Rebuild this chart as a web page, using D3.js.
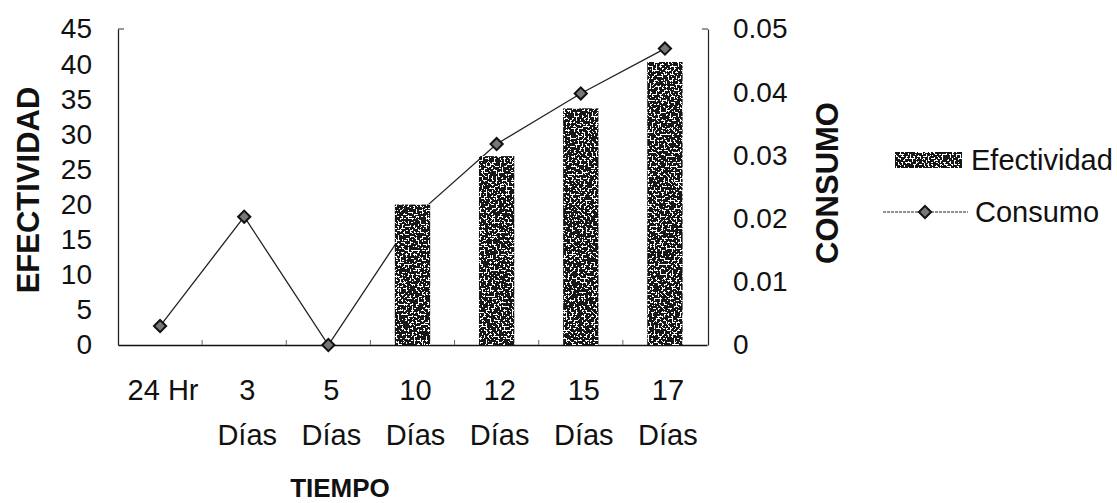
<!DOCTYPE html>
<html>
<head>
<meta charset="utf-8">
<script src="https://cdn.jsdelivr.net/npm/d3@7"></script>
<style>
  html, body { margin: 0; padding: 0; background: #fff; }
  svg { display: block; font-family: "Liberation Sans", Arial, sans-serif; }
</style>
</head>
<body>
<svg id="chart" width="1117" height="503"></svg>
<script>
// ---- data ----
const categories = ["24 Hr", "3 Días", "5 Días", "10 Días", "12 Días", "15 Días", "17 Días"];
const labelLine1 = ["24 Hr", "3", "5", "10", "12", "15", "17"];
const labelLine2 = ["", "Días", "Días", "Días", "Días", "Días", "Días"];
const efectividad = [0, 0, 0, 20, 26.9, 33.7, 40.3];
const consumo = [0.003, 0.0203, 0, 0.02, 0.0318, 0.0398, 0.0469];
const leftTicks = [0, 5, 10, 15, 20, 25, 30, 35, 40, 45];
const rightTicks = [0, 0.01, 0.02, 0.03, 0.04, 0.05];
const seriesNames = ["Efectividad", "Consumo"];

// ---- layout ----
const svg = d3.select("#chart");
const L = 118, R = 707, T = 29, B = 345;

const defs = svg.append("defs");
const f = defs.append("filter").attr("id", "speckle")
  .attr("x", 0).attr("y", 0).attr("width", 1).attr("height", 1);
f.append("feTurbulence").attr("type", "fractalNoise").attr("baseFrequency", 0.5)
  .attr("numOctaves", 2).attr("seed", 7).attr("result", "n");
f.append("feColorMatrix").attr("in", "n").attr("type", "matrix")
  .attr("values", "0 0 0 0 1  0 0 0 0 1  0 0 0 0 1  1 0 0 0 0").attr("result", "w");
const ct = f.append("feComponentTransfer").attr("in", "w").attr("result", "wt");
ct.append("feFuncA").attr("type", "discrete").attr("tableValues", "0 0 0 0 0 0 1 1 1 1 1");
f.append("feComposite").attr("in", "wt").attr("in2", "SourceGraphic").attr("operator", "in").attr("result", "spk");
const fm = f.append("feMerge");
fm.append("feMergeNode").attr("in", "SourceGraphic");
fm.append("feMergeNode").attr("in", "spk");

const x = d3.scaleBand().domain(categories).range([L, R]).paddingInner(0.58).paddingOuter(0.29);
const yL = d3.scaleLinear().domain([0, 45]).range([B, T]);
const yR = d3.scaleLinear().domain([0, 0.05]).range([B, T]);
const cx = c => x(c) + x.bandwidth() / 2;

// left axis
const gL = svg.append("g").attr("transform", `translate(${L},0)`)
  .call(d3.axisLeft(yL).tickValues(leftTicks).tickFormat(d3.format("d"))
    .tickSizeInner(0).tickSizeOuter(0).tickPadding(26));
gL.select(".domain").attr("stroke", "#222").attr("stroke-width", 1.3);
gL.selectAll("text").attr("font-size", 28).attr("fill", "#111").attr("font-family", "Liberation Sans, Arial, sans-serif");

// right axis
const gR = svg.append("g").attr("transform", `translate(${R + 1},0)`)
  .call(d3.axisRight(yR).tickValues(rightTicks).tickFormat(d => d === 0 ? "0" : d3.format(".2f")(d))
    .tickSizeInner(0).tickSizeOuter(0).tickPadding(25));
gR.select(".domain").attr("stroke", "#222").attr("stroke-width", 1.2);
gR.selectAll("text").attr("font-size", 28).attr("fill", "#111").attr("font-family", "Liberation Sans, Arial, sans-serif");

// small corner ticks at top
svg.append("line").attr("x1", L).attr("x2", L + 6).attr("y1", T).attr("y2", T).attr("stroke", "#333");
svg.append("line").attr("x1", R - 5).attr("x2", R + 1).attr("y1", T).attr("y2", T).attr("stroke", "#333");

// bottom axis
const gB = svg.append("g").attr("transform", `translate(0,${B})`)
  .call(d3.axisBottom(x).tickSize(0).tickFormat(""));
gB.select(".domain").attr("stroke", "#111").attr("stroke-width", 1.6);
// boundary ticks
svg.append("g").selectAll("line").data(categories.slice(1)).join("line")
  .attr("x1", d => x(d) - x.step() * x.paddingInner() / 2)
  .attr("x2", d => x(d) - x.step() * x.paddingInner() / 2)
  .attr("y1", B).attr("y2", B - 5).attr("stroke", "#666").attr("stroke-width", 1);

// category labels
const lab = svg.append("g").attr("font-size", 29).attr("fill", "#111").attr("text-anchor", "middle");
categories.forEach((c, i) => {
  const t = lab.append("text").attr("x", cx(c) + 3).attr("y", 400);
  t.append("tspan").attr("x", cx(c) + 3).attr("y", 400).text(labelLine1[i]);
  if (labelLine2[i]) t.append("tspan").attr("x", cx(c) + 3).attr("y", 445).text(labelLine2[i]);
});

// consumo line (drawn first, bars cover it)
const line = d3.line().x((d, i) => cx(categories[i])).y(d => yR(d));
svg.append("path").datum(consumo).attr("d", line)
  .attr("fill", "none").attr("stroke", "#222").attr("stroke-width", 1.3);
const diamond = d3.symbol().type(d3.symbolDiamond2).size(95);
svg.append("g").selectAll("path").data(consumo).join("path")
  .attr("transform", (d, i) => `translate(${cx(categories[i])},${yR(d)})`)
  .attr("d", diamond).attr("fill", "#777").attr("stroke", "#111").attr("stroke-width", 2);

// bars
svg.append("g").selectAll("rect").data(efectividad.map((v, i) => ({c: categories[i], v})).filter(d => d.v > 0))
  .join("rect")
  .attr("x", d => x(d.c))
  .attr("y", d => yL(d.v))
  .attr("width", x.bandwidth())
  .attr("height", d => B - yL(d.v))
  .attr("fill", "#151515")
  .attr("filter", "url(#speckle)");

// axis titles
svg.append("text").attr("transform", "translate(39,190) rotate(-90)")
  .attr("text-anchor", "middle").attr("font-weight", "bold").attr("font-size", 31).attr("fill", "#111")
  .text("EFECTIVIDAD");
svg.append("text").attr("transform", "translate(838,183) rotate(-90)")
  .attr("text-anchor", "middle").attr("font-weight", "bold").attr("font-size", 31).attr("fill", "#111")
  .text("CONSUMO");
svg.append("text").attr("x", 340).attr("y", 497)
  .attr("text-anchor", "middle").attr("font-weight", "bold").attr("font-size", 26).attr("fill", "#111")
  .text("TIEMPO");

// legend
const lg = svg.append("g");
lg.append("rect").attr("x", 895).attr("y", 152).attr("width", 67).attr("height", 16)
  .attr("fill", "#151515").attr("filter", "url(#speckle)");
lg.append("text").attr("x", 971).attr("y", 170).attr("font-size", 29).attr("fill", "#111").text(seriesNames[0]);
lg.append("line").attr("x1", 883).attr("x2", 968).attr("y1", 212).attr("y2", 212)
  .attr("stroke", "#222").attr("stroke-width", 1).attr("stroke-dasharray", "3,1");
lg.append("path").attr("transform", "translate(925,212)").attr("d", diamond)
  .attr("fill", "#777").attr("stroke", "#111").attr("stroke-width", 2);
lg.append("text").attr("x", 975).attr("y", 222).attr("font-size", 29).attr("fill", "#111").text(seriesNames[1]);
</script>
</body>
</html>
